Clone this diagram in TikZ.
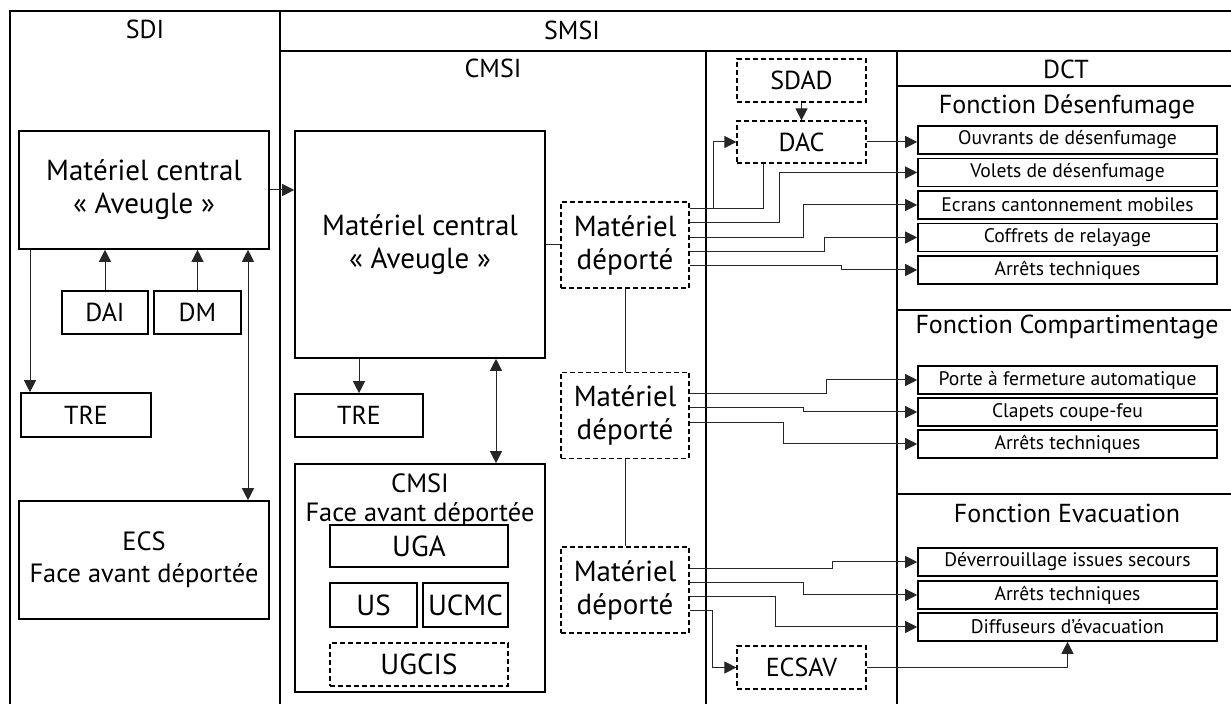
\documentclass[tikz,border=0pt]{standalone}
\usepackage{fontspec}
\setmainfont{PT Sans}
\usepackage{tikz}
\usetikzlibrary{arrows.meta, positioning, calc}
\newcommand{\bigfont}{\fontsize{14.5}{16.5}\selectfont}
\newcommand{\midfont}{\fontsize{13}{15}\selectfont}
\newcommand{\titlefont}{\fontsize{13}{15}\selectfont}
\newcommand{\facefont}{\fontsize{13.2}{16}\selectfont}
\newcommand{\smallfont}{\fontsize{9.8}{12}\selectfont}
\tikzstyle{box} = [
    rectangle,
    draw=black,
    line width=0.8pt,
    fill=white,
    inner sep=0pt,
    align=center,
    font=\midfont
]
\tikzstyle{dashbox} = [
    box,
    line width=0.6pt,
    dash pattern=on 2.5pt off 1.5pt
]
\tikzstyle{dctbox} = [
    box,
    minimum width=149.5pt,
    minimum height=14pt,
    font=\smallfont
]
\tikzstyle{head} = [inner sep=0pt, font=\midfont]
\tikzstyle{link} = [line width=0.5pt, color=black!85]
\tikzstyle{arrow} = [link, -{Triangle[length=6pt, width=6pt]}]
\tikzstyle{dblarrow} = [link, {Triangle[length=6pt, width=6pt]}-{Triangle[length=6pt, width=6pt]}]
\tikzstyle{frame} = [line width=1pt]
\tikzstyle{sep} = [line width=0.6pt]
\begin{document}
\begin{tikzpicture}[x=0.5pt, y=-0.5pt]
        \useasboundingbox (0,0) rectangle (1231,704);
        % Frames
        \draw[frame] (10,720) -- (10,11) -- (1240,11);
        \draw[sep] (280,11) -- (280,720);
        \draw[sep] (280,51) -- (1240,51);
        \draw[frame] (706,51) -- (706,720);
        \draw[frame] (897,51) -- (897,720);
        \draw[frame] (897,86) -- (1240,86);
        \draw[frame] (897,310) -- (1240,310);
        \draw[frame] (897,494) -- (1240,494);

        % Titles
        \node[head] (sdiTitle) at (145,29) {SDI};
        \node[head] (smsiTitle) at (572,30) {SMSI};
        \node[head] (cmsiTitle) at (493,68) {CMSI};
        \node[head] (dctTitle) at (1066,69) {DCT};
        \node[head, font=\titlefont] (desenfTitle) at (1067,107) {Fonction Désenfumage};
        \node[head, font=\titlefont] (compartTitle) at (1067,327) {Fonction Compartimentage};
        \node[head, font=\titlefont] (evacTitle) at (1067,513) {Fonction Evacuation};

        % SDI
        \node[box, font=\bigfont, minimum width=125pt, minimum height=59pt] (mcSdi) at (144,190) {Matériel central\\«~Aveugle~»};
        \node[box, minimum width=43pt, minimum height=21.5pt] (dai) at (105,312.5) {DAI};
        \node[box, minimum width=43.5pt, minimum height=21.5pt] (dm) at (197.5,312.5) {DM};
        \node[box, minimum width=65pt, minimum height=22pt] (treSdi) at (86,415) {TRE};
        \node[box, font=\facefont, minimum width=125pt, minimum height=59pt] (ecs) at (144,560) {ECS\\Face avant déportée};

        % CMSI
        \node[box, font=\bigfont, minimum width=125pt, minimum height=113.5pt] (mcCmsi) at (420,244.5) {Matériel central\\«~Aveugle~»};
        \node[box, minimum width=64pt, minimum height=21.5pt] (treCmsi) at (359,415.5) {TRE};
        \node[box, minimum width=125pt, minimum height=114pt,
            label={[anchor=north, align=center, font=\fontsize{13.2}{14.5}\selectfont, inner sep=0pt, yshift=-5pt]north:CMSI\\Face avant déportée}] (face) at (420,578) {};
        \node[box, font=\bigfont, minimum width=89pt, minimum height=21pt] (uga) at (419,546) {UGA};
        \node[box, font=\bigfont, minimum width=43.5pt, minimum height=22pt] (us) at (373.5,605) {US};
        \node[box, font=\bigfont, minimum width=42.5pt, minimum height=22pt] (ucmc) at (465.5,605) {UCMC};
        \node[dashbox, font=\bigfont, minimum width=89pt, minimum height=21.5pt] (ugcis) at (419,664.5) {UGCIS};

        % SMSI
        \node[dashbox, font=\bigfont, minimum width=64pt, minimum height=43pt] (md1) at (625,245) {Matériel\\déporté};
        \node[dashbox, font=\bigfont, minimum width=64pt, minimum height=43pt] (md2) at (625,415.5) {Matériel\\déporté};
        \node[dashbox, font=\bigfont, minimum width=64pt, minimum height=43pt] (md3) at (625,590) {Matériel\\déporté};
        \node[dashbox, minimum width=64.5pt, minimum height=21.5pt] (sdad) at (801.5,80.5) {SDAD};
        \node[dashbox, minimum width=64.5pt, minimum height=21pt] (dac) at (801.5,142) {DAC};
        \node[dashbox, minimum width=64.5pt, minimum height=21.5pt] (ecsav) at (801.5,667.5) {ECSAV};

        % DCT
        \node[dctbox] (ouvrants) at (1067.5,140) {Ouvrants de désenfumage};
        \node[dctbox] (volets) at (1067.5,172.5) {Volets de désenfumage};
        \node[dctbox] (ecrans) at (1067.5,205) {Ecrans cantonnement mobiles};
        \node[dctbox] (coffrets) at (1067.5,237.5) {Coffrets de relayage};
        \node[dctbox] (arretsA) at (1067.5,270) {Arrêts techniques};
        \node[dctbox] (porte) at (1067.5,380) {Porte à fermeture automatique};
        \node[dctbox] (clapets) at (1067.5,412) {Clapets coupe-feu};
        \node[dctbox] (arretsB) at (1067.5,444) {Arrêts techniques};
        \node[dctbox] (deverr) at (1067.5,562) {Déverrouillage issues secours};
        \node[dctbox] (arretsC) at (1067.5,595) {Arrêts techniques};
        \node[dctbox] (diffus) at (1067.5,627) {Diffuseurs d’évacuation};

        % Arrows SDI
        \coordinate (treIn) at ([xshift=-28pt]treSdi.north);
        \coordinate (ecsIn) at ([xshift=52pt]ecs.north);
        \draw[arrow] (dai.north) -- (dai.north |- mcSdi.south);
        \draw[arrow] (dm.north) -- (dm.north |- mcSdi.south);
        \draw[arrow] (treIn |- mcSdi.south) -- (treIn);
        \draw[dblarrow] (ecsIn |- mcSdi.south) -- (ecsIn);
        \draw[arrow] (mcSdi.east) -- (mcSdi.east -| mcCmsi.west);

        % Arrows CMSI
        \coordinate (faceIn) at ([xshift=38pt]face.north);
        \draw[arrow] (treCmsi.north |- mcCmsi.south) -- (treCmsi.north);
        \draw[dblarrow] (faceIn |- mcCmsi.south) -- (faceIn);
        \draw[link] (mcCmsi.east) -- (mcCmsi.east -| md1.west);
        \draw[link] (md1) -- (md2);
        \draw[link] (md2) -- (md3);

        % Arrows SMSI
        \draw[arrow] (sdad) -- (dac);
        \draw[arrow] ([yshift=18pt]md1.east) -- ++(24,0) |- (dac.west);
        \draw[link] ([xshift=-19.25pt]dac.south) |- ([yshift=18pt]md1.east);
        \draw[arrow] (dac.east) -- (dac.east -| ouvrants.west);
        \draw[arrow] ([yshift=11pt]md1.east) -- ++(90,0) |- (volets.west);
        \draw[arrow] ([yshift=3.5pt]md1.east) -- ++(114,0) |- (ecrans.west);
        \draw[arrow] ([yshift=-3.5pt]md1.east) -- ++(135,0) |- (coffrets.west);
        \draw[arrow] ([yshift=-10.5pt]md1.east) -- ++(152,0) |- (arretsA.west);
        \draw[arrow] ([yshift=10.75pt]md2.east) -- ++(137,0) |- (porte.west);
        \draw[arrow] ([yshift=3.75pt]md2.east) -- ++(114,0) |- (clapets.west);
        \draw[arrow] ([yshift=-3.75pt]md2.east) -- ++(94,0) |- (arretsB.west);
        \draw[arrow] ([yshift=10.5pt]md3.east) -- ++(143,0) |- (deverr.west);
        \draw[arrow] ([yshift=3.5pt]md3.east) -- ++(114,0) |- (arretsC.west);
        \draw[arrow] ([yshift=-3.5pt]md3.east) -- ++(86,0) |- (diffus.west);
        \draw[arrow] ([yshift=-10.5pt]md3.east) -- ++(23,0) |- (ecsav.west);
        \draw[arrow] (ecsav.east) -| (diffus.south);
\end{tikzpicture}
\end{document}
